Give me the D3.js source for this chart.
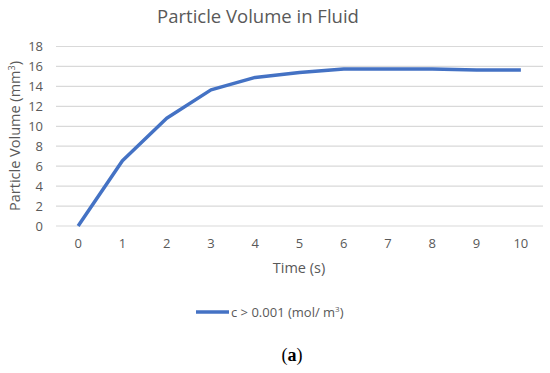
<!DOCTYPE html>
<html>
<head>
<meta charset="utf-8">
<title>Particle Volume in Fluid</title>
<script src="https://cdn.jsdelivr.net/npm/d3@7"></script>
<style>
body{margin:0;background:#fff;}
text{font-family:"Open Sans",sans-serif;fill:#595959;}
</style>
</head>
<body>
<script>
// data
var times = [0,1,2,3,4,5,6,7,8,9,10];
var volume = [0,6.55,10.8,13.65,14.9,15.4,15.75,15.75,15.75,15.65,15.65];
var yTicks = [0,2,4,6,8,10,12,14,16,18];

var width = 550, height = 373;
var plotLeft = 56, plotRight = 543, plotTop = 46.5, plotBottom = 226;

var svg = d3.select("body").append("svg")
  .attr("width", width)
  .attr("height", height);

var x = d3.scaleBand().domain(times).range([plotLeft, plotRight]);
var y = d3.scaleLinear().domain([0,18]).range([plotBottom, plotTop]);

// gridlines
svg.append("g")
  .selectAll("line")
  .data(yTicks)
  .enter().append("line")
  .attr("x1", plotLeft).attr("x2", plotRight)
  .attr("y1", function(d){ return y(d); })
  .attr("y2", function(d){ return y(d); })
  .attr("stroke", "#d9d9d9")
  .attr("stroke-width", 1.2);

// y axis labels
var ay = d3.axisLeft(y).tickValues(yTicks).tickSize(0).tickPadding(0);
svg.append("g")
  .attr("transform", "translate(43,0)")
  .call(ay)
  .call(function(g){ g.select(".domain").remove(); })
  .selectAll("text")
  .style("font-size", "13px")
  .attr("fill", "#595959");

// x axis labels
var ax = d3.axisBottom(x).tickSize(0).tickPadding(0);
svg.append("g")
  .attr("transform", "translate(0,239)")
  .call(ax)
  .call(function(g){ g.select(".domain").remove(); })
  .selectAll("text")
  .style("font-size", "13px")
  .attr("fill", "#595959");

// line
var line = d3.line()
  .x(function(d,i){ return x(times[i]) + x.bandwidth()/2; })
  .y(function(d){ return y(d); });

svg.append("path")
  .datum(volume)
  .attr("d", line)
  .attr("fill", "none")
  .attr("stroke", "#4472c4")
  .attr("stroke-width", 3.5)
  .attr("stroke-linejoin", "round");

// title
svg.append("text")
  .attr("x", 258).attr("y", 23)
  .attr("text-anchor", "middle")
  .style("font-size", "18.5px")
  .text("Particle Volume in Fluid");

// axis titles
var yl = svg.append("text")
  .attr("transform", "translate(20,136) rotate(-90)")
  .attr("text-anchor", "middle")
  .style("font-size", "14.5px");
yl.append("tspan").text("Particle Volume (mm");
yl.append("tspan").attr("dy", -5).style("font-size", "9px").text("3");
yl.append("tspan").attr("dy", 5).text(")");

svg.append("text")
  .attr("x", 299).attr("y", 273)
  .attr("text-anchor", "middle")
  .style("font-size", "14.5px")
  .text("Time (s)");

// legend
svg.append("line")
  .attr("x1", 196).attr("x2", 229)
  .attr("y1", 312).attr("y2", 312)
  .attr("stroke", "#4472c4")
  .attr("stroke-width", 3.5);
var lg = svg.append("text")
  .attr("x", 231).attr("y", 317)
  .style("font-size", "13px");
lg.append("tspan").text("c > 0.001 (mol/ m");
lg.append("tspan").attr("dy", -5).style("font-size", "8px").text("3");
lg.append("tspan").attr("dy", 5).text(")");

// caption
var cap = svg.append("text")
  .attr("x", 292).attr("y", 361)
  .attr("text-anchor", "middle")
  .style("font-family", "'Liberation Serif',serif")
  .style("font-size", "18px");
cap.append("tspan").style("fill", "#000").text("(");
cap.append("tspan").style("fill", "#000").style("font-weight", "bold").text("a");
cap.append("tspan").style("fill", "#000").text(")");
</script>
</body>
</html>
